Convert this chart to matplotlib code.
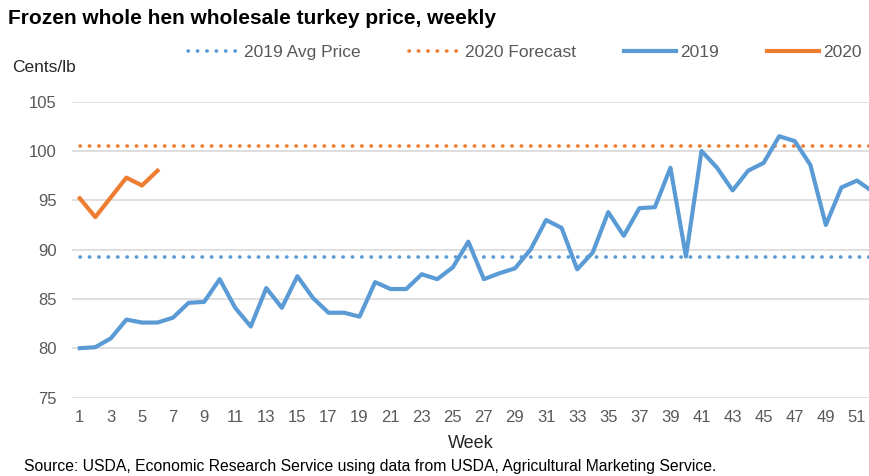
import matplotlib.pyplot as plt

weeks = list(range(1, 53))
price_2019 = [80.0, 80.1, 81.0, 82.9, 82.6, 82.6, 83.1, 84.6, 84.7, 87.0,
              84.1, 82.2, 86.1, 84.1, 87.3, 85.1, 83.6, 83.6, 83.2, 86.7,
              86.0, 86.0, 87.5, 87.0, 88.2, 90.8, 87.0, 87.6, 88.1, 90.0,
              93.0, 92.2, 88.0, 89.7, 93.8, 91.4, 94.2, 94.3, 98.3, 89.3,
              100.0, 98.3, 96.0, 98.0, 98.8, 101.5, 101.0, 98.6, 92.5, 96.3,
              97.0, 95.9]
weeks_2020 = [1, 2, 3, 4, 5, 6]
price_2020 = [95.2, 93.3, 95.3, 97.3, 96.5, 98.0]
avg_2019 = 89.3
forecast_2020 = 100.5
yticks = [75, 80, 85, 90, 95, 100, 105]
xticks = list(range(1, 52, 2))

blue = '#5B9BD5'
orange = '#ED7D31'
grey = '#595959'

plt.rcParams['font.family'] = ['Liberation Sans', 'DejaVu Sans']

fig = plt.figure(figsize=(8.7, 4.76), dpi=100)
ax = fig.add_axes([72 / 870, 1 - 397.5 / 476, 1 - 72 / 870, (397.5 - 101.7) / 476])

# flat reference lines, drawn across the weeks of the year
span = [weeks[0], weeks[-1]]
dot = (0, (0.1, 2.5))
ax.plot(span, [avg_2019, avg_2019], color=blue, lw=2.6, ls=dot,
        dash_capstyle='round', label='2019 Avg Price', zorder=3)
ax.plot(span, [forecast_2020, forecast_2020], color=orange, lw=2.6, ls=dot,
        dash_capstyle='round', label='2020 Forecast', zorder=3)
ax.plot(weeks, price_2019, color=blue, lw=3, label='2019', zorder=4,
        solid_joinstyle='round')
ax.plot(weeks_2020, price_2020, color=orange, lw=3, label='2020', zorder=4,
        solid_joinstyle='round')

ax.set_xlim(0.5, 51.84)
ax.set_ylim(75, 105)
ax.set_yticks(yticks)
ax.set_xticks(xticks)
ax.tick_params(length=0, labelsize=12, labelcolor=grey)
ax.tick_params(axis='y', pad=11)
ax.tick_params(axis='x', pad=9)
ax.grid(axis='y', color='#D9D9D9', lw=1.2)
for s in ax.spines.values():
    s.set_visible(False)
ax.set_axisbelow(True)

ax.set_xlabel('Week', fontsize=13, color='#262626', labelpad=7)

fig.text(8 / 870, 1 - 18.5 / 476, 'Frozen whole hen wholesale turkey price, weekly',
         fontsize=15, fontweight='bold', va='center', ha='left', color='black')
fig.text(12 / 870, 1 - 67 / 476, 'Cents/lb', fontsize=12.5, va='center', ha='left',
         color='#262626')
fig.text(24 / 870, 1 - 466 / 476,
         'Source: USDA, Economic Research Service using data from USDA, '
         'Agricultural Marketing Service.',
         fontsize=11.3, va='center', ha='left', color='black')

h, l = ax.get_legend_handles_labels()
leg = fig.legend(h, l, loc='center left', bbox_to_anchor=(188 / 870, 1 - 52 / 476),
                 ncol=4, frameon=False, fontsize=12.5, handlelength=3.0,
                 handletextpad=0.25, columnspacing=2.75, borderpad=0, borderaxespad=0)
for t in leg.get_texts():
    t.set_color(grey)

fig.savefig('out.png', dpi=100)
